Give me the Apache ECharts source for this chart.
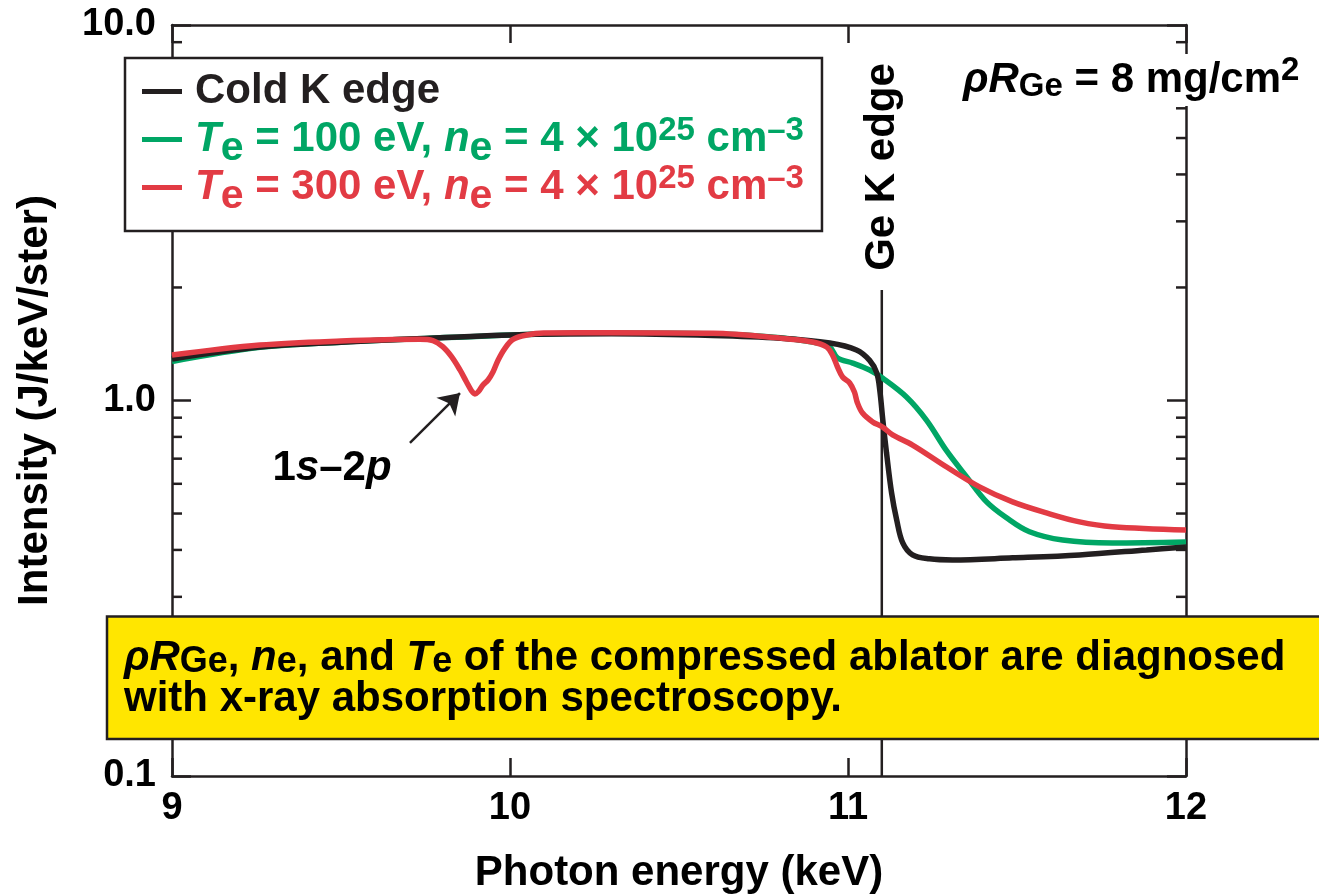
<!DOCTYPE html>
<html>
<head>
<meta charset="utf-8">
<title>Ge K-edge absorption spectra</title>
<script src="https://cdn.jsdelivr.net/npm/echarts@6/dist/echarts.min.js"></script>
<style>
  html, body { margin: 0; padding: 0; background: #ffffff; }
  #chart { width: 1319px; height: 896px; }
</style>
</head>
<body>
<div id="chart"></div>
<script>
// Photon energy axis (keV) and intensity axis (J/keV/ster, log scale)
const energyRange = [9, 12];
const energyTicks = [9, 10, 11, 12];
const intensityRange = [0.1, 10];
const intensityTickLabels = ['0.1', '1.0', '10.0'];
const minorIntensity = [0.2, 0.3, 0.4, 0.5, 0.6, 0.7, 0.8, 0.9, 2, 3, 4, 5, 6, 7, 8, 9];

// Spectra: [photon energy keV, intensity]
const coldEdge = [
  [9.0, 1.29], [9.26, 1.388], [9.5, 1.43], [9.704, 1.458], [10.05, 1.50],
  [10.3, 1.505], [10.6, 1.49], [10.8, 1.465], [10.946, 1.422], [11.025, 1.363],
  [11.064, 1.279], [11.085, 1.184], [11.094, 1.066], [11.103, 0.887], [11.114, 0.725],
  [11.129, 0.567], [11.144, 0.481], [11.162, 0.4175], [11.191, 0.388], [11.241, 0.3787],
  [11.309, 0.376], [11.487, 0.381], [11.685, 0.388], [11.883, 0.400], [12.0, 0.4075]
];
const te100 = [
  [9.0, 1.27], [9.26, 1.385], [9.5, 1.43], [9.704, 1.457], [10.05, 1.50],
  [10.3, 1.512], [10.6, 1.505], [10.8, 1.47], [10.895, 1.43], [10.946, 1.388],
  [10.969, 1.297], [11.014, 1.258], [11.064, 1.206], [11.102, 1.148], [11.173, 1.022],
  [11.232, 0.887], [11.292, 0.734], [11.351, 0.626], [11.41, 0.537], [11.469, 0.487],
  [11.537, 0.447], [11.635, 0.425], [11.782, 0.4175], [12.0, 0.42]
];
const te300 = [
  [9.0, 1.321], [9.26, 1.405], [9.5, 1.44], [9.733, 1.455], [9.772, 1.443],
  [9.801, 1.391], [9.827, 1.308], [9.852, 1.206], [9.871, 1.122], [9.886, 1.062],
  [9.896, 1.041], [9.906, 1.055], [9.920, 1.100], [9.935, 1.134], [9.950, 1.193],
  [9.965, 1.282], [9.985, 1.377], [10.009, 1.455], [10.049, 1.494], [10.1, 1.512],
  [10.3, 1.515], [10.6, 1.51], [10.8, 1.466], [10.895, 1.431], [10.937, 1.388],
  [10.954, 1.322], [10.969, 1.228], [10.984, 1.155], [11.005, 1.113], [11.019, 1.053],
  [11.028, 0.985], [11.043, 0.926], [11.073, 0.877], [11.102, 0.850], [11.132, 0.810],
  [11.191, 0.761], [11.292, 0.665], [11.389, 0.589], [11.487, 0.537], [11.587, 0.502],
  [11.685, 0.475], [11.782, 0.461], [12.0, 0.452]
];

// Ge K edge marker and the 1s-2p absorption arrow
const geKEdge = [[11.1, 0.1], [11.1, 1.97]];
const arrow1s2p = [[9.704, 0.771], [9.852, 1.047]];

const seriesNames = ['Cold K edge', 'Te = 100 eV', 'Te = 300 eV'];
const INK = '#231f20';
const GREEN = '#00a665';
const RED = '#e23b44';
const FONT = 'Liberation Sans, Arial, Helvetica, sans-serif';

// Rich-text styles: sub/superscripts are shifted with balanced token padding,
// so the token box (and the line height) keeps its size
function richSet(size, lineHeight, subSize, subDrop, supRise) {
  const base = { fontFamily: FONT, fontWeight: 'bold', lineHeight: lineHeight };
  return {
    n:   Object.assign({ fontSize: size }, base),
    i:   Object.assign({ fontSize: size, fontStyle: 'italic' }, base),
    sub: Object.assign({ fontSize: subSize, padding: [subDrop, 0, -subDrop, 0] }, base),
    sup: Object.assign({ fontSize: size - 9, padding: [-supRise, 0, supRise, 0] }, base)
  };
}

// Every legend row carries the same script tokens so the rows share one height
const legendLabels = {
  'Cold K edge': '{n|Cold K edge}{sub| }{sup| }',
  'Te = 100 eV': '{i|T}{sub|e}{n| = 100 eV, }{i|n}{sub|e}{n| = 4 × 10}{sup|25}{n| cm}{sup|–3}',
  'Te = 300 eV': '{i|T}{sub|e}{n| = 300 eV, }{i|n}{sub|e}{n| = 4 × 10}{sup|25}{n| cm}{sup|–3}'
};

function tickLabel(v) {
  const idx = Math.round(Math.log10(v / intensityRange[0]));
  return intensityTickLabels[idx] || '';
}

const axisLine = { show: true, lineStyle: { color: INK, width: 2.5 } };

const chart = echarts.init(document.getElementById('chart'), null, { renderer: 'canvas' });

const option = {
  animation: false,
  backgroundColor: '#ffffff',
  grid: { left: 172, right: 133, top: 25, bottom: 120, containLabel: false, outerBoundsMode: 'none' },
  xAxis: [
    {
      type: 'value', position: 'bottom',
      min: energyRange[0], max: energyRange[1], interval: 1,
      axisLine: axisLine,
      axisTick: { show: true, inside: true, length: 18, lineStyle: { color: INK, width: 2.5 } },
      axisLabel: {
        margin: 14, color: '#000', fontFamily: FONT, fontSize: 38, fontWeight: 'bold',
        formatter: v => (energyTicks.indexOf(v) >= 0 ? String(v) : '')
      },
      splitLine: { show: false },
      name: 'Photon energy (keV)', nameLocation: 'middle', nameGap: 76,
      nameTextStyle: { color: '#000', fontFamily: FONT, fontSize: 42, fontWeight: 'bold' }
    },
    {
      type: 'value', position: 'top',
      min: energyRange[0], max: energyRange[1], interval: 1,
      axisLine: axisLine,
      axisTick: { show: true, inside: true, length: 18, lineStyle: { color: INK, width: 2.5 } },
      axisLabel: { show: false },
      splitLine: { show: false }
    }
  ],
  yAxis: [
    {
      type: 'log', logBase: 10, position: 'left',
      min: intensityRange[0], max: intensityRange[1],
      axisLine: axisLine,
      axisTick: { show: true, inside: true, length: 19, lineStyle: { color: INK, width: 2.5 } },
      axisLabel: {
        margin: 16, color: '#000', fontFamily: FONT, fontSize: 38, fontWeight: 'bold',
        formatter: tickLabel
      },
      splitLine: { show: false },
      name: 'Intensity (J/keV/ster)', nameLocation: 'middle', nameGap: 116, nameRotate: 90,
      nameTextStyle: { color: '#000', fontFamily: FONT, fontSize: 42, fontWeight: 'bold' }
    },
    {
      type: 'log', logBase: 10, position: 'right',
      min: intensityRange[0], max: intensityRange[1],
      axisLine: axisLine,
      axisTick: { show: true, inside: true, length: 19, lineStyle: { color: INK, width: 2.5 } },
      axisLabel: { show: false },
      splitLine: { show: false }
    }
  ],
  legend: {
    data: seriesNames.map((name, k) => ({
      name: name,
      textStyle: { color: [INK, GREEN, RED][k] }
    })),
    orient: 'vertical',
    left: 125, top: 58,
    padding: [8, 18, 14, 17],
    itemGap: -7,
    itemWidth: 40, itemHeight: 5,
    icon: 'rect',
    backgroundColor: '#ffffff',
    borderColor: INK, borderWidth: 2.5, borderRadius: 0,
    selectedMode: false,
    formatter: name => legendLabels[name],
    textStyle: { fontFamily: FONT, fontSize: 42, fontWeight: 'bold', padding: [0, 0, 0, 8], rich: richSet(42, 42, 41, 9, 9) }
  },
  series: [
    {
      name: 'minor ticks', type: 'custom', silent: true, z: 1,
      data: minorIntensity.map(v => [energyRange[0], v]),
      renderItem: function (params, api) {
        const v = api.value(1);
        const l = api.coord([energyRange[0], v]);
        const r = api.coord([energyRange[1], v]);
        const style = { stroke: INK, lineWidth: 2.5 };
        return {
          type: 'group',
          children: [
            { type: 'line', shape: { x1: l[0], y1: l[1], x2: l[0] + 10, y2: l[1] }, style: style },
            { type: 'line', shape: { x1: r[0] - 10, y1: r[1], x2: r[0], y2: r[1] }, style: style }
          ]
        };
      }
    },
    {
      name: 'Ge K edge', type: 'line', data: geKEdge, showSymbol: false, silent: true, z: 2,
      lineStyle: { color: INK, width: 2.5 },
      markLine: {
        silent: true, symbol: ['none', 'arrow'], symbolSize: 20,
        lineStyle: { color: INK, width: 2.5, type: 'solid' },
        itemStyle: { color: INK },
        label: { show: false },
        data: [[{ coord: arrow1s2p[0] }, { coord: arrow1s2p[1] }]]
      }
    },
    {
      name: seriesNames[1], type: 'line', data: te100, showSymbol: false, z: 3,
      smooth: 0.35,
      itemStyle: { color: GREEN }, lineStyle: { color: GREEN, width: 5.5 }
    },
    {
      name: seriesNames[0], type: 'line', data: coldEdge, showSymbol: false, z: 4,
      smooth: 0.35,
      itemStyle: { color: INK }, lineStyle: { color: INK, width: 5.5 }
    },
    {
      name: seriesNames[2], type: 'line', data: te300, showSymbol: false, z: 5,
      smooth: 0.35,
      itemStyle: { color: RED }, lineStyle: { color: RED, width: 5.5 }
    }
  ]
};
chart.setOption(option);

// Annotations placed from data coordinates
const edgeTop = chart.convertToPixel({ xAxisIndex: 0, yAxisIndex: 0 }, [geKEdge[0][0], 10]);
chart.setOption({
  graphic: [
    {
      type: 'text', z: 50,
      x: edgeTop[0] + 1, y: 167, rotation: Math.PI / 2,
      style: { text: 'Ge K edge', fill: '#000', font: 'bold 42px ' + FONT, align: 'center', verticalAlign: 'middle' }
    },
    {
      type: 'text', z: 50, x: 961, y: 80,
      style: {
        text: '{i|ρR}{sub|Ge}{n| = 8 mg/cm}{sup|2}',
        fill: '#000', align: 'left', verticalAlign: 'middle',
        backgroundColor: '#ffffff', padding: [4, 2, 4, 2],
        rich: richSet(42, 44, 33, 7, 9)
      }
    },
    {
      type: 'text', z: 50, x: 332, y: 468,
      style: {
        text: '{n|1}{i|s}{n|–2}{i|p}', fill: '#000', align: 'center', verticalAlign: 'middle',
        rich: richSet(42, 46, 36, 0, 0)
      }
    },
    {
      type: 'group', z: 100,
      children: [
        {
          type: 'rect', z: 100,
          shape: { x: 107, y: 616.5, width: 1300, height: 122.5 },
          style: { fill: '#ffe600', stroke: INK, lineWidth: 2.5 }
        },
        {
          type: 'text', z: 101, x: 124, y: 638,
          style: {
            text: '{i|ρR}{sub|Ge}{n|, }{i|n}{sub|e}{n|, and }{i|T}{sub|e}{n| of the compressed ablator are diagnosed}\n{n|with x-ray absorption spectroscopy.}',
            fill: '#000', align: 'left', verticalAlign: 'top',
            rich: richSet(42, 41, 36, 4, 0)
          }
        }
      ]
    }
  ]
});
</script>
</body>
</html>
